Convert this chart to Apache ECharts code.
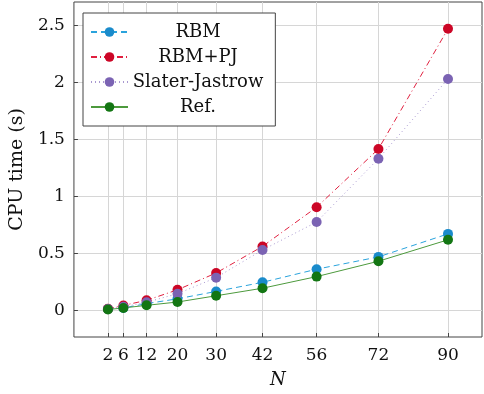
<!DOCTYPE html>
<html>
<head>
<meta charset="utf-8">
<script src="https://cdn.jsdelivr.net/npm/echarts@6/dist/echarts.min.js"></script>
<style>
  html, body { margin: 0; padding: 0; background: #fff; }
  #main { width: 484px; height: 394px; }
</style>
</head>
<body>
<div id="main"></div>
<script>
const nValues = [2, 6, 12, 20, 30, 42, 56, 72, 90];
const yTicks = [0, 0.5, 1, 1.5, 2, 2.5];
const rbm = [0.01, 0.02, 0.058, 0.1, 0.165, 0.245, 0.36, 0.468, 0.67];
const rbmPj = [0.012, 0.042, 0.087, 0.179, 0.327, 0.56, 0.904, 1.415, 2.47];
const slaterJastrow = [0.01, 0.03, 0.07, 0.145, 0.286, 0.529, 0.774, 1.33, 2.03];
const ref = [0.006, 0.02, 0.043, 0.072, 0.127, 0.193, 0.295, 0.43, 0.618];

const font = "DejaVu Serif";

function pairs(ys) {
  return nValues.map((n, i) => [n, ys[i]]);
}

function makeSeries(name, ys, color, lineColor, dash) {
  return {
    name: name,
    type: "line",
    data: pairs(ys),
    symbol: "circle",
    symbolSize: 10,
    itemStyle: { color: color },
    lineStyle: { color: lineColor, width: 1, type: dash },
    emphasis: { disabled: true },
    z: 3
  };
}

const options = {
  animation: false,
  grid: {
    left: 72,
    right: 2,
    top: 2,
    bottom: 52,
    show: true,
    borderColor: "#444",
    borderWidth: 1
  },
  legend: {
    orient: "vertical",
    left: 83,
    top: 13,
    padding: [10, 12, 10, 7],
    itemGap: 7,
    itemWidth: 37,
    itemHeight: 12,
    backgroundColor: "#fff",
    borderColor: "#444",
    borderWidth: 1,
    data: ["RBM", "RBM+PJ", "Slater-Jastrow", "Ref."],
    formatter: (name) => "{a|" + name + "}",
    textStyle: {
      fontFamily: font,
      fontSize: 18,
      color: "#111",
      rich: {
        a: { width: 130, align: "center", fontFamily: font, fontSize: 18, lineHeight: 19, color: "#111" }
      }
    }
  },
  xAxis: {
    type: "value",
    min: -6.8,
    max: 98.8,
    name: "N",
    nameLocation: "middle",
    nameGap: 34,
    nameTextStyle: { fontFamily: font, fontSize: 18, fontStyle: "italic", color: "#111" },
    axisLine: { show: false, onZero: false },
    axisTick: { show: true, inside: true, length: 4, customValues: nValues, lineStyle: { color: "#444" } },
    axisLabel: { customValues: nValues, fontFamily: font, fontSize: 17, color: "#111", margin: 10 },
    splitLine: { show: true, lineStyle: { color: "#d6d6d6", width: 1 } }
  },
  yAxis: {
    type: "value",
    min: -0.235,
    max: 2.705,
    name: "CPU time (s)",
    nameLocation: "middle",
    nameGap: 43,
    nameTextStyle: { fontFamily: font, fontSize: 19, color: "#111" },
    axisLine: { show: false, onZero: false },
    axisTick: { show: true, inside: true, length: 4, customValues: yTicks, lineStyle: { color: "#444" } },
    axisLabel: { customValues: yTicks, fontFamily: font, fontSize: 17, color: "#111", margin: 9 },
    splitLine: { show: true, lineStyle: { color: "#d6d6d6", width: 1 } }
  },
  series: [
    makeSeries("RBM", rbm, "#1a8bcb", "#2aa3dc", [6, 4]),
    makeSeries("RBM+PJ", rbmPj, "#cc0626", "#e0203f", [6, 3, 1, 3]),
    makeSeries("Slater-Jastrow", slaterJastrow, "#7b63b3", "#a898d0", [1, 3]),
    makeSeries("Ref.", ref, "#137613", "#4d9a3d", "solid")
  ]
};

var myChart = echarts.init(document.getElementById("main"));
myChart.setOption(options);
window.onresize = function() {
  myChart.resize();
};
</script>
</body>
</html>
